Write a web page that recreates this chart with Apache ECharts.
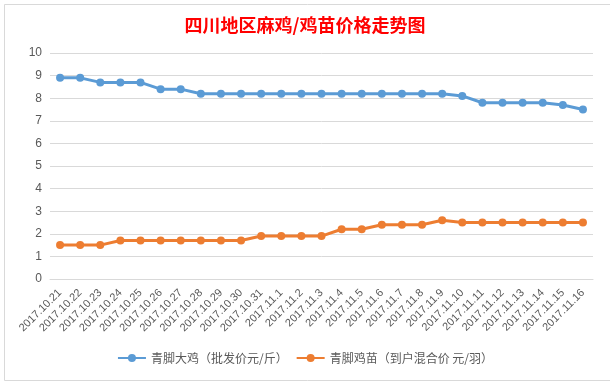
<!DOCTYPE html>
<html>
<head>
<meta charset="utf-8">
<script src="https://cdn.jsdelivr.net/npm/echarts@6/dist/echarts.min.js"></script>
<style>
html,body{margin:0;padding:0;background:#fff;}
#chart{width:610px;height:381px;}
</style>
</head>
<body>
<div id="chart"></div>
<script>
var categories = ['2017.10.21','2017.10.22','2017.10.23','2017.10.24','2017.10.25','2017.10.26','2017.10.27','2017.10.28','2017.10.29','2017.10.30','2017.10.31','2017.11.1','2017.11.2','2017.11.3','2017.11.4','2017.11.5','2017.11.6','2017.11.7','2017.11.8','2017.11.9','2017.11.10','2017.11.11','2017.11.12','2017.11.13','2017.11.14','2017.11.15','2017.11.16'];
var chickenName = '青脚大鸡（批发价元/斤）';
var chickenValues = [8.9,8.9,8.7,8.7,8.7,8.4,8.4,8.2,8.2,8.2,8.2,8.2,8.2,8.2,8.2,8.2,8.2,8.2,8.2,8.2,8.1,7.8,7.8,7.8,7.8,7.7,7.5];
var chickName = '青脚鸡苗（到户混合价 元/羽）';
var chickValues = [1.5,1.5,1.5,1.7,1.7,1.7,1.7,1.7,1.7,1.7,1.9,1.9,1.9,1.9,2.2,2.2,2.4,2.4,2.4,2.6,2.5,2.5,2.5,2.5,2.5,2.5,2.5];
var titleText = '四川地区麻鸡/鸡苗价格走势图';

var chart = echarts.init(document.getElementById('chart'), null, {renderer:'canvas'});
var font = 'Liberation Sans, "Noto Sans CJK SC", sans-serif';
chart.setOption({
  animation:false,
  backgroundColor:'#fff',
  graphic:[{
    type:'rect', left:2, top:2, z:-1,
    shape:{width:606, height:376},
    style:{fill:'none', stroke:'#d9d9d9', lineWidth:1}
  }],
  title:{
    text:titleText, left:'center', top:11,
    textStyle:{color:'#ff0000', fontSize:18, fontWeight:'bold', fontFamily:'"Noto Sans CJK SC", sans-serif'}
  },
  legend:{
    bottom:12, left:'center',
    itemWidth:28, itemHeight:10, itemGap:8,
    textStyle:{color:'#595959', fontSize:12, fontFamily:'"Noto Sans CJK SC", sans-serif'},
    data:[chickenName, chickName]
  },
  grid:{left:50, right:17, top:53, bottom:102, containLabel:false},
  xAxis:{
    type:'category', data:categories, boundaryGap:true,
    axisLine:{lineStyle:{color:'#d9d9d9'}},
    axisTick:{show:false},
    axisLabel:{rotate:45, interval:0, color:'#595959', fontSize:11, fontFamily:font, margin:12}
  },
  yAxis:{
    type:'value', min:0, max:10, interval:1,
    axisLine:{show:false}, axisTick:{show:false},
    axisLabel:{color:'#595959', fontSize:12, fontFamily:font, margin:8},
    splitLine:{lineStyle:{color:'#d9d9d9'}}
  },
  series:[
    {name:chickenName, type:'line', data:chickenValues, symbol:'circle', symbolSize:8,
     lineStyle:{width:3, color:'#5b9bd5'}, itemStyle:{color:'#5b9bd5'}},
    {name:chickName, type:'line', data:chickValues, symbol:'circle', symbolSize:8,
     lineStyle:{width:3, color:'#ed7d31'}, itemStyle:{color:'#ed7d31'}}
  ]
});
</script>
</body>
</html>
